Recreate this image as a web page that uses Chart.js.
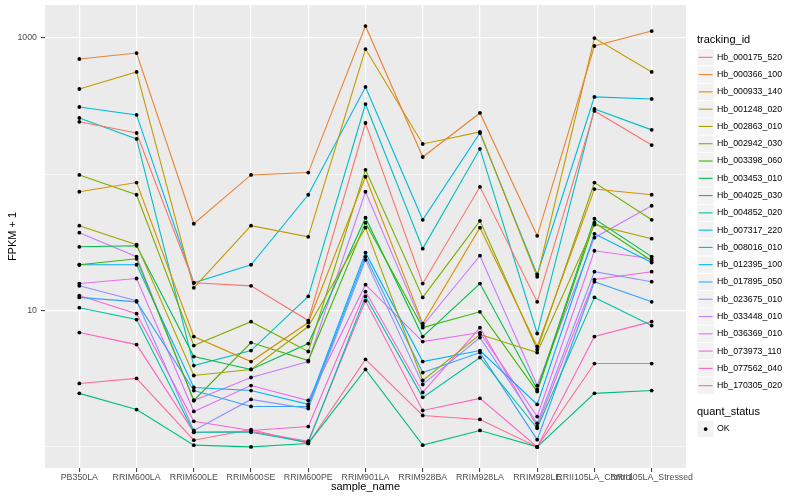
<!DOCTYPE html>
<html>
<head>
<meta charset="utf-8">
<script src="https://cdn.jsdelivr.net/npm/chart.js@4.4.1/dist/chart.umd.min.js"></script>
<style>
  html, body { margin: 0; padding: 0; background: #fff; }
  #wrap { width: 800px; height: 500px; }
</style>
</head>
<body>
<div id="wrap"><canvas id="chart" width="800" height="500"></canvas></div>
<script>
// x categories
const sampleNames = ['PB350LA', 'RRIM600LA', 'RRIM600LE', 'RRIM600SE', 'RRIM600PE', 'RRIM901LA',
    'RRIM928BA', 'RRIM928LA', 'RRIM928LE', 'RRII105LA_Control', 'RRII105LA_Stressed'];

const trackingIds = ['Hb_000175_520', 'Hb_000366_100', 'Hb_000933_140', 'Hb_001248_020', 'Hb_002863_010',
    'Hb_002942_030', 'Hb_003398_060', 'Hb_003453_010', 'Hb_004025_030', 'Hb_004852_020', 'Hb_007317_220',
    'Hb_008016_010', 'Hb_012395_100', 'Hb_017895_050', 'Hb_023675_010', 'Hb_033448_010', 'Hb_036369_010',
    'Hb_073973_110', 'Hb_077562_040', 'Hb_170305_020'];

// FPKM + 1, one array per tracking_id (same order as sampleNames)
const Hb_000175_520 = [243, 201, 16.0, 15.2, 8.45, 238, 15.8, 81, 11.6, 292, 164];
const Hb_000366_100 = [702, 776, 43.4, 99, 103, 1225, 134, 282, 35.4, 874, 1125];
const Hb_000933_140 = [74.5, 87, 6.45, 4.23, 8.17, 96, 8.03, 40.6, 5.45, 78, 70.8];
const Hb_001248_020 = [423, 564, 14.7, 42, 34.8, 830, 167, 205, 17.7, 1000, 564];
const Hb_002863_010 = [42, 30.5, 3.34, 3.70, 7.64, 40.6, 3.07, 6.67, 4.92, 42.7, 33.7];
const Hb_002942_030 = [99, 70.8, 5.54, 8.3, 5.01, 108, 12.5, 45.6, 5.18, 87, 46.4];
const Hb_003398_060 = [21.7, 24.0, 2.19, 5.83, 4.30, 44.2, 7.5, 9.8, 2.55, 44.2, 23.2];
const Hb_003453_010 = [29.4, 29.9, 4.60, 3.70, 5.73, 48, 6.45, 15.8, 2.64, 47.2, 24.9];
const Hb_004025_030 = [2.47, 1.88, 1.03, 1.0, 1.06, 3.70, 1.03, 1.32, 1.0, 2.47, 2.59];
const Hb_004852_020 = [10.5, 8.6, 1.28, 1.28, 1.08, 12.7, 2.31, 4.53, 1.37, 12.5, 7.77];
const Hb_007317_220 = [259, 182, 3.95, 5.09, 12.7, 328, 28.5, 154, 6.79, 302, 212];
const Hb_008016_010 = [312, 273, 16.0, 21.7, 70.8, 438, 46.4, 201, 18.4, 370, 357];
const Hb_012395_100 = [21.7, 21.7, 2.73, 2.59, 2.05, 26.6, 4.23, 5.09, 2.05, 36.6, 22.5];
const Hb_017895_050 = [12.5, 11.6, 2.59, 1.98, 1.98, 24.9, 3.51, 4.92, 1.13, 16.3, 11.6];
const Hb_023675_010 = [15.2, 11.8, 1.32, 2.23, 1.91, 23.6, 2.87, 6.34, 1.49, 19.3, 16.3];
const Hb_033448_010 = [37.3, 24.9, 2.19, 3.23, 4.23, 74.5, 7.77, 25.3, 2.82, 34.3, 58.8];
const Hb_036369_010 = [15.8, 17.2, 1.82, 2.82, 2.19, 15.5, 5.93, 6.9, 1.67, 27.5, 24.0];
const Hb_073973_110 = [12.9, 9.5, 1.54, 1.32, 1.41, 13.8, 2.51, 7.5, 1.41, 16.9, 19.3];
const Hb_077562_040 = [6.9, 5.63, 1.28, 1.30, 1.10, 11.8, 1.85, 2.27, 1.0, 6.45, 8.3];
const Hb_170305_020 = [2.92, 3.18, 1.12, 1.34, 1.06, 4.38, 1.70, 1.59, 1.0, 4.09, 4.09];

const seriesValues = [Hb_000175_520, Hb_000366_100, Hb_000933_140, Hb_001248_020, Hb_002863_010,
    Hb_002942_030, Hb_003398_060, Hb_003453_010, Hb_004025_030, Hb_004852_020, Hb_007317_220,
    Hb_008016_010, Hb_012395_100, Hb_017895_050, Hb_023675_010, Hb_033448_010, Hb_036369_010,
    Hb_073973_110, Hb_077562_040, Hb_170305_020];

// y grid: labelled majors and unlabelled minors
const yMajorTicks = [10, 1000];
const yMinorTicks = [1, 100];

// ggplot default hue palette, 20 levels
const seriesColors = ['#F8766D', '#EA8331', '#D89000', '#C09B00', '#A3A500', '#7CAE00', '#39B600',
    '#00BB4E', '#00BF7D', '#00C1A3', '#00BFC4', '#00BAE0', '#00B0F6', '#35A2FF', '#9590FF', '#C77CFF',
    '#E76BF3', '#FA62DB', '#FF62BC', '#FF6C91'];

const FONT = '"Liberation Sans", Arial, Helvetica, sans-serif';
Chart.defaults.font.family = FONT;

// y range like ggplot: data range on log scale, 5% each side
const allVals = seriesValues.flat();
const logLo = Math.log10(Math.min(...allVals));
const logHi = Math.log10(Math.max(...allVals));
const logPad = (logHi - logLo) * 0.05;
const yMin = Math.pow(10, logLo - logPad);
const yMax = Math.pow(10, logHi + logPad);

const lineSets = seriesValues.map((vals, i) => ({
    label: trackingIds[i],
    data: vals.map((v, j) => ({ x: j, y: v })),
    borderColor: seriesColors[i],
    borderWidth: 1.1,
    pointRadius: 0,
    tension: 0,
    order: 1
}));

// points go on top of every line, like geom_point after geom_line
const pointSets = seriesValues.map((vals, i) => ({
    label: trackingIds[i] + ' pts',
    data: vals.map((v, j) => ({ x: j, y: v })),
    showLine: false,
    pointRadius: 1.9,
    pointBackgroundColor: '#000',
    pointBorderWidth: 0,
    order: 0
}));

const panelBg = {
    id: 'panelBg',
    beforeDraw(chart) {
        const { ctx, chartArea: a } = chart;
        ctx.save();
        ctx.fillStyle = '#EBEBEB';
        ctx.fillRect(a.left, a.top, a.right - a.left, a.bottom - a.top);
        ctx.restore();
    }
};

const ggLegend = {
    id: 'ggLegend',
    afterDraw(chart) {
        const ctx = chart.ctx;
        const x0 = 697;
        const keyH = 17.28;
        ctx.save();
        ctx.textAlign = 'left';
        ctx.textBaseline = 'middle';

        ctx.fillStyle = '#000';
        ctx.font = '11px ' + FONT;
        ctx.fillText('tracking_id', x0, 40);

        trackingIds.forEach((id, i) => {
            const top = 48.7 + i * keyH;
            const cy = top + keyH / 2;
            ctx.fillStyle = '#F2F2F2';
            ctx.fillRect(x0 + 0.5, top + 0.5, keyH - 1, keyH - 1);
            ctx.strokeStyle = seriesColors[i];
            ctx.lineWidth = 1.1;
            ctx.beginPath();
            ctx.moveTo(x0 + 1.7, cy);
            ctx.lineTo(x0 + 15.6, cy);
            ctx.stroke();
            ctx.fillStyle = '#000';
            ctx.font = '8.8px ' + FONT;
            ctx.fillText(id, x0 + 20, cy);
        });

        ctx.font = '11px ' + FONT;
        ctx.fillText('quant_status', x0, 412);
        const top = 420.4;
        ctx.fillStyle = '#F2F2F2';
        ctx.fillRect(x0 + 0.5, top + 0.5, keyH - 1, keyH - 1);
        ctx.fillStyle = '#000';
        ctx.beginPath();
        ctx.arc(x0 + keyH / 2, top + keyH / 2, 1.9, 0, Math.PI * 2);
        ctx.fill();
        ctx.font = '8.8px ' + FONT;
        ctx.fillText('OK', x0 + 20, top + keyH / 2);
        ctx.restore();
    }
};

new Chart(document.getElementById('chart'), {
    type: 'line',
    data: { datasets: [...lineSets, ...pointSets] },
    options: {
        responsive: false,
        animation: false,
        layout: { padding: { left: 0, top: 5, right: 114, bottom: 0 } },
        plugins: { legend: { display: false }, tooltip: { enabled: false } },
        scales: {
            x: {
                type: 'linear',
                min: -0.6,
                max: sampleNames.length - 1 + 0.6,
                afterBuildTicks: axis => { axis.ticks = sampleNames.map((_, i) => ({ value: i })); },
                ticks: {
                    callback: v => sampleNames[v] ?? '',
                    autoSkip: false, maxRotation: 0, minRotation: 0,
                    color: '#4D4D4D', font: { size: 8.8 }, padding: 0
                },
                grid: { color: '#fff', lineWidth: 1.2, tickColor: '#333', tickWidth: 1, tickLength: 4 },
                border: { display: false },
                title: { display: true, text: 'sample_name', color: '#000', font: { size: 11 }, padding: { top: 0, bottom: 6 } },
                afterFit: s => { s.height = 32; s.paddingLeft = 0; s.paddingRight = 0; }
            },
            y: {
                type: 'logarithmic',
                min: yMin,
                max: yMax,
                afterBuildTicks: axis => {
                    axis.ticks = [...yMinorTicks, ...yMajorTicks].sort((a, b) => a - b).map(v => ({ value: v }));
                },
                ticks: {
                    callback: v => yMajorTicks.includes(v) ? String(v) : '',
                    autoSkip: false, color: '#4D4D4D', font: { size: 8.8 }, padding: 4
                },
                grid: {
                    color: '#fff',
                    lineWidth: c => (c.tick && yMajorTicks.includes(c.tick.value)) ? 1.2 : 0.6,
                    tickColor: c => (c.tick && yMajorTicks.includes(c.tick.value)) ? '#333' : 'rgba(0,0,0,0)',
                    tickWidth: 1,
                    tickLength: 4
                },
                border: { display: false },
                title: { display: true, text: 'FPKM + 1', color: '#000', font: { size: 11 }, padding: { top: 6, bottom: 0 } },
                afterFit: s => { s.width = 45; s.paddingTop = 0; s.paddingBottom = 0; }
            }
        }
    },
    plugins: [panelBg, ggLegend]
});
</script>
</body>
</html>
